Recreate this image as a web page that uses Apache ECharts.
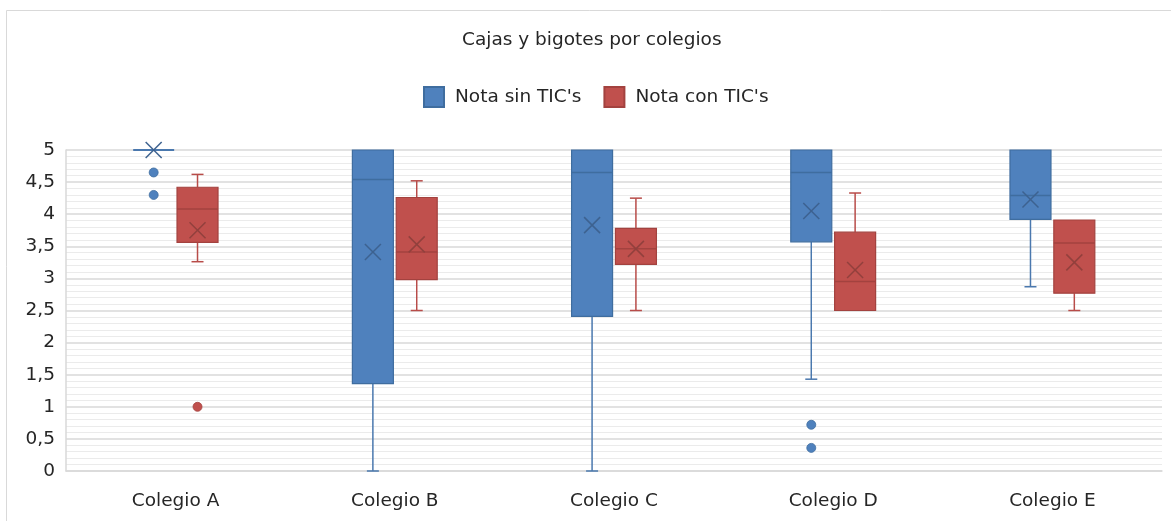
<!DOCTYPE html>
<html>
<head>
<meta charset="utf-8">
<script src="https://cdn.jsdelivr.net/npm/echarts@6/dist/echarts.min.js"></script>
<style>
html,body{margin:0;padding:0;background:#fff;}
#chart{width:1171px;height:521px;}
</style>
</head>
<body>
<div id="chart"></div>
<script>
// ---- Data ----
const categories = ['Colegio A', 'Colegio B', 'Colegio C', 'Colegio D', 'Colegio E'];
const seriesNames = ["Nota sin TIC's", "Nota con TIC's"];
const yTickLabels = ['0', '0,5', '1', '1,5', '2', '2,5', '3', '3,5', '4', '4,5', '5'];

// [min, Q1, median, Q3, max] per category
const sinBox = [
  [5, 5, 5, 5, 5],
  [0, 1.36, 4.54, 5, 5],
  [0, 2.41, 4.65, 5, 5],
  [1.43, 3.57, 4.65, 5, 5],
  [2.87, 3.92, 4.29, 5, 5]
];
const sinMean = [5, 3.41, 3.83, 4.05, 4.23];
const sinOutliers = [[0, 4.65], [0, 4.3], [3, 0.72], [3, 0.36]];

const conBox = [
  [3.26, 3.56, 4.08, 4.42, 4.62],
  [2.5, 2.98, 3.41, 4.26, 4.52],
  [2.5, 3.22, 3.46, 3.78, 4.25],
  [2.5, 2.5, 2.95, 3.72, 4.33],
  [2.5, 2.77, 3.55, 3.91, 3.91]
];
const conMean = [3.75, 3.53, 3.46, 3.13, 3.25];
const conOutliers = [[0, 1.0]];

// ---- Styles ----
const FONT = "'DejaVu Sans', sans-serif";
const FS = 18.5;
const TXT = '#262626';
const blue = {fill: '#4f81bd', stroke: '#3f6d9f', mark: '#3d6290', whisker: '#4a78ae'};
const red = {fill: '#c0504d', stroke: '#a3423f', mark: '#92403d', whisker: '#b84c49'};

function boxData(box, mean) {
  return box.map((b, i) => [i, b[0], b[1], b[2], b[3], b[4], mean[i]]);
}

function makeBoxRender(offFrac, c) {
  return function (params, api) {
    const idx = api.value(0);
    const band = api.size([1, 0])[0];
    const w = band * 0.187;
    const off = band * offFrac;
    const base = api.coord([idx, 0]);
    const x = base[0] + off;
    const yMin = api.coord([idx, api.value(1)])[1];
    const yQ1 = api.coord([idx, api.value(2)])[1];
    const yMed = api.coord([idx, api.value(3)])[1];
    const yQ3 = api.coord([idx, api.value(4)])[1];
    const yMax = api.coord([idx, api.value(5)])[1];
    const yMean = api.coord([idx, api.value(6)])[1];
    const cap = 6;
    const children = [];
    const ws = {stroke: c.whisker, lineWidth: 1.5};
    if (yMin - yQ1 > 0.5) {
      children.push({type: 'line', shape: {x1: x, y1: yQ1, x2: x, y2: yMin}, style: ws});
      children.push({type: 'line', shape: {x1: x - cap, y1: yMin, x2: x + cap, y2: yMin}, style: ws});
    }
    if (yQ3 - yMax > 0.5) {
      children.push({type: 'line', shape: {x1: x, y1: yMax, x2: x, y2: yQ3}, style: ws});
      children.push({type: 'line', shape: {x1: x - cap, y1: yMax, x2: x + cap, y2: yMax}, style: ws});
    }
    const h = yQ1 - yQ3;
    if (h > 0.5) {
      children.push({type: 'rect', shape: {x: x - w / 2, y: yQ3, width: w, height: h},
        style: {fill: c.fill, stroke: c.stroke, lineWidth: 1.2}});
      children.push({type: 'line', shape: {x1: x - w / 2, y1: yMed, x2: x + w / 2, y2: yMed},
        style: {stroke: c.stroke, lineWidth: 1.5}});
    } else {
      children.push({type: 'line', shape: {x1: x - w / 2, y1: yMed, x2: x + w / 2, y2: yMed},
        style: {stroke: c.whisker, lineWidth: 2}});
    }
    const m = 8;
    const ms = {stroke: c.mark, lineWidth: 1.5};
    children.push({type: 'line', shape: {x1: x - m, y1: yMean - m, x2: x + m, y2: yMean + m}, style: ms});
    children.push({type: 'line', shape: {x1: x - m, y1: yMean + m, x2: x + m, y2: yMean - m}, style: ms});
    return {type: 'group', children: children};
  };
}

function makeOutlierRender(offFrac, c) {
  return function (params, api) {
    const idx = api.value(0);
    const band = api.size([1, 0])[0];
    const p = api.coord([idx, api.value(1)]);
    return {type: 'circle', shape: {cx: p[0] + band * offFrac, cy: p[1], r: 4.5},
      style: {fill: c.fill, stroke: c.stroke, lineWidth: 0.8}};
  };
}

const chart = echarts.init(document.getElementById('chart'), null, {renderer: 'canvas'});
const OFF = 0.1;

chart.setOption({
  backgroundColor: '#ffffff',
  animation: false,
  textStyle: {fontFamily: FONT},
  graphic: [{
    type: 'rect', shape: {x: 6.5, y: 10.5, width: 1300, height: 700},
    style: {fill: 'none', stroke: '#d9d9d9', lineWidth: 1}, silent: true, z: -10
  }],
  title: {
    text: 'Cajas y bigotes por colegios',
    left: 462, top: 31, padding: 0,
    textStyle: {fontFamily: FONT, fontSize: FS, fontWeight: 'normal', color: TXT}
  },
  legend: {
    data: seriesNames,
    left: 423, top: 86, padding: 0,
    icon: 'rect', itemWidth: 20, itemHeight: 20, itemGap: 22,
    textStyle: {fontFamily: FONT, fontSize: FS, color: TXT, padding: [0, 0, 0, 6]}
  },
  grid: {left: 66, right: 9, top: 150, bottom: 50, containLabel: false},
  xAxis: {
    type: 'category',
    data: categories,
    axisLine: {show: true, lineStyle: {color: '#d9d9d9', width: 1.5}},
    axisTick: {show: false},
    axisLabel: {fontFamily: FONT, fontSize: FS, color: TXT, margin: 21},
    splitLine: {show: false}
  },
  yAxis: {
    type: 'value', min: 0, max: 5, interval: 0.5,
    axisLine: {show: true, lineStyle: {color: '#d9d9d9', width: 1.5}},
    axisTick: {show: false},
    axisLabel: {fontFamily: FONT, fontSize: FS, color: TXT, margin: 11, padding: [4, 0, 0, 0],
      formatter: v => yTickLabels[Math.round(v / 0.5)]},
    splitLine: {show: true, lineStyle: {color: '#d9d9d9', width: 1.5}},
    minorTick: {show: false, splitNumber: 5},
    minorSplitLine: {show: true, lineStyle: {color: '#ebebeb', width: 1}}
  },
  series: [
    {name: seriesNames[0], type: 'custom', renderItem: makeBoxRender(-OFF, blue),
      itemStyle: {color: blue.fill, borderColor: blue.stroke, borderWidth: 1},
      encode: {x: 0, y: [1, 2, 3, 4, 5, 6]}, data: boxData(sinBox, sinMean), z: 3},
    {name: seriesNames[1], type: 'custom', renderItem: makeBoxRender(OFF, red),
      itemStyle: {color: red.fill, borderColor: red.stroke, borderWidth: 1},
      encode: {x: 0, y: [1, 2, 3, 4, 5, 6]}, data: boxData(conBox, conMean), z: 3},
    {name: seriesNames[0], type: 'custom', renderItem: makeOutlierRender(-OFF, blue),
      itemStyle: {color: blue.fill},
      encode: {x: 0, y: 1}, data: sinOutliers, z: 4},
    {name: seriesNames[1], type: 'custom', renderItem: makeOutlierRender(OFF, red),
      itemStyle: {color: red.fill},
      encode: {x: 0, y: 1}, data: conOutliers, z: 4}
  ]
});
</script>
</body>
</html>
